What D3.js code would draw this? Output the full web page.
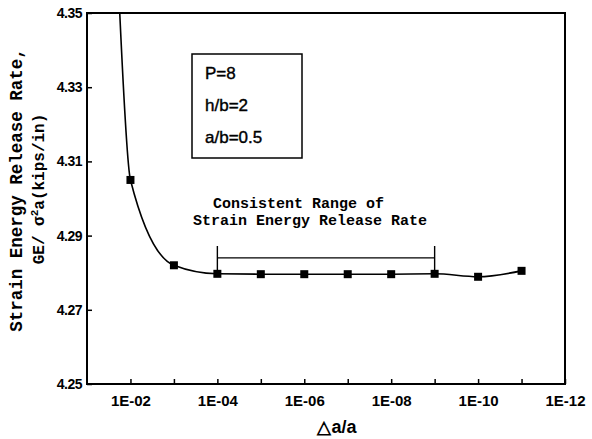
<!DOCTYPE html>
<html>
<head>
<meta charset="utf-8">
<script src="https://cdn.jsdelivr.net/npm/d3@7"></script>
<style>
  html, body { margin: 0; padding: 0; background: #fff; }
  svg { display: block; }
</style>
</head>
<body>
<svg id="chart" width="592" height="439"></svg>
<script>
// ---- data ----
const crackRatio = [1e-2, 1e-3, 1e-4, 1e-5, 1e-6, 1e-7, 1e-8, 1e-9, 1e-10, 1e-11];
const energyRate = [4.305, 4.282, 4.2797, 4.2796, 4.2796, 4.2796, 4.2796, 4.2797, 4.2789, 4.2805];
// where the curve leaves the top of the frame (unmarked)
const curveLeadX = [0.0178];
const curveLeadY = [4.351];
const xTickValues = [1e-2, 1e-3, 1e-4, 1e-5, 1e-6, 1e-7, 1e-8, 1e-9, 1e-10, 1e-11, 1e-12];
const xTickLabels = ["1E-02", "1E-04", "1E-06", "1E-08", "1E-10", "1E-12"];
const yTickValues = [4.25, 4.27, 4.29, 4.31, 4.33, 4.35];
const paramLines = ["P=8", "h/b=2", "a/b=0.5"];
const rangeFrom = 1e-4, rangeTo = 1e-9;
const rangeTop = 4.2872, rangeBar = 4.2840;
const noteLines = ["Consistent Range of", "Strain Energy Release Rate"];

// ---- layout ----
const L = 87, R = 565, T = 13, B = 384;
const svg = d3.select("#chart");

const x = d3.scaleLog().domain([1e-1, 1e-12]).range([L, R]);
const y = d3.scaleLinear().domain([4.25, 4.35]).range([B, T]);

svg.append("defs").append("clipPath").attr("id", "plotclip")
  .append("rect").attr("x", L).attr("y", T).attr("width", R - L).attr("height", B - T);

// axes (inward ticks)
const fmtX = d => {
  const e = Math.round(-Math.log10(d));
  return "1E-" + String(e).padStart(2, "0");
};
const xAxis = d3.axisBottom(x).tickValues(xTickValues).tickSize(-5).tickPadding(11)
  .tickFormat(d => { const s = fmtX(d); return xTickLabels.includes(s) ? s : ""; });
const gx = svg.append("g").attr("transform", `translate(0,${B})`).call(xAxis);
gx.select(".domain").remove();
gx.selectAll("line").attr("stroke", "#000").attr("stroke-width", 1.5);
gx.selectAll("text").attr("font-family", "Liberation Sans, Arial, sans-serif")
  .attr("font-weight", "bold").attr("font-size", 15).attr("fill", "#000");

const yAxis = d3.axisLeft(y).tickValues(yTickValues).tickSize(-5).tickPadding(5)
  .tickFormat(d3.format(".2f"));
const gy = svg.append("g").attr("transform", `translate(${L},0)`).call(yAxis);
gy.select(".domain").remove();
gy.selectAll("line").attr("stroke", "#000").attr("stroke-width", 1.5);
gy.selectAll("text").attr("font-family", "Liberation Sans, Arial, sans-serif")
  .attr("font-weight", "bold").attr("font-size", 14).attr("fill", "#000")
  .attr("letter-spacing", -0.5);

// frame
svg.append("rect").attr("x", L).attr("y", T).attr("width", R - L).attr("height", B - T)
  .attr("fill", "none").attr("stroke", "#000").attr("stroke-width", 2);

// curve
const pts = curveLeadX.map((d, i) => [d, curveLeadY[i]])
  .concat(crackRatio.map((d, i) => [d, energyRate[i]]));
const line = d3.line().x(d => x(d[0])).y(d => y(d[1])).curve(d3.curveMonotoneX);
svg.append("path").attr("d", line(pts)).attr("clip-path", "url(#plotclip)")
  .attr("fill", "none").attr("stroke", "#000").attr("stroke-width", 1.6);

// markers
const ms = 8;
svg.append("g").selectAll("rect").data(crackRatio.map((d, i) => [d, energyRate[i]]))
  .join("rect")
  .attr("x", d => x(d[0]) - ms / 2).attr("y", d => y(d[1]) - ms / 2)
  .attr("width", ms).attr("height", ms).attr("fill", "#000");

// consistent-range bracket
const gb = svg.append("g").attr("stroke", "#000").attr("stroke-width", 1.4);
gb.append("line").attr("x1", x(rangeFrom)).attr("x2", x(rangeFrom))
  .attr("y1", y(rangeTop)).attr("y2", y(energyRate[crackRatio.indexOf(rangeFrom)]));
gb.append("line").attr("x1", x(rangeTo)).attr("x2", x(rangeTo))
  .attr("y1", y(rangeTop)).attr("y2", y(energyRate[crackRatio.indexOf(rangeTo)]));
gb.append("line").attr("x1", x(rangeFrom)).attr("x2", x(rangeTo))
  .attr("y1", y(rangeBar)).attr("y2", y(rangeBar));

// note text
svg.append("g").selectAll("text").data(noteLines).join("text")
  .attr("x", (d, i) => i === 0 ? 213 : 193).attr("y", (d, i) => 208 + i * 17)
  .attr("font-family", "Liberation Mono, Courier New, monospace")
  .attr("font-weight", "bold").attr("font-size", 15).attr("fill", "#000")
  .text(d => d);

// parameter box
svg.append("rect").attr("x", 192).attr("y", 54).attr("width", 110).attr("height", 104)
  .attr("fill", "none").attr("stroke", "#000").attr("stroke-width", 1.5);
svg.append("g").selectAll("text").data(paramLines).join("text")
  .attr("x", 205).attr("y", (d, i) => 79 + i * 32)
  .attr("font-family", "Liberation Sans, Arial, sans-serif")
  .attr("font-size", 17).attr("fill", "#000").attr("stroke", "#000").attr("stroke-width", 0.4)
  .text(d => d);

// axis titles
svg.append("text").attr("x", 337).attr("y", 433).attr("text-anchor", "middle")
  .attr("font-family", "Liberation Sans, Arial, sans-serif").attr("font-weight", "bold")
  .attr("font-size", 18).attr("fill", "#000").text("\u25B3a/a");

svg.append("text").attr("transform", "translate(22,190) rotate(-90)").attr("text-anchor", "middle")
  .attr("font-family", "Liberation Mono, Courier New, monospace").attr("font-weight", "bold")
  .attr("font-size", 17.5).attr("fill", "#000").text("Strain Energy Release Rate,");

const t2 = svg.append("text").attr("transform", "translate(44,189) rotate(-90)").attr("text-anchor", "middle")
  .attr("font-family", "Liberation Mono, Courier New, monospace").attr("font-weight", "bold")
  .attr("font-size", 16).attr("fill", "#000");
t2.append("tspan").text("GE/ \u03C3");
t2.append("tspan").attr("font-size", 11).attr("dy", -6).text("2");
t2.append("tspan").attr("dy", 6).text("a(kips/in)");
</script>
</body>
</html>
